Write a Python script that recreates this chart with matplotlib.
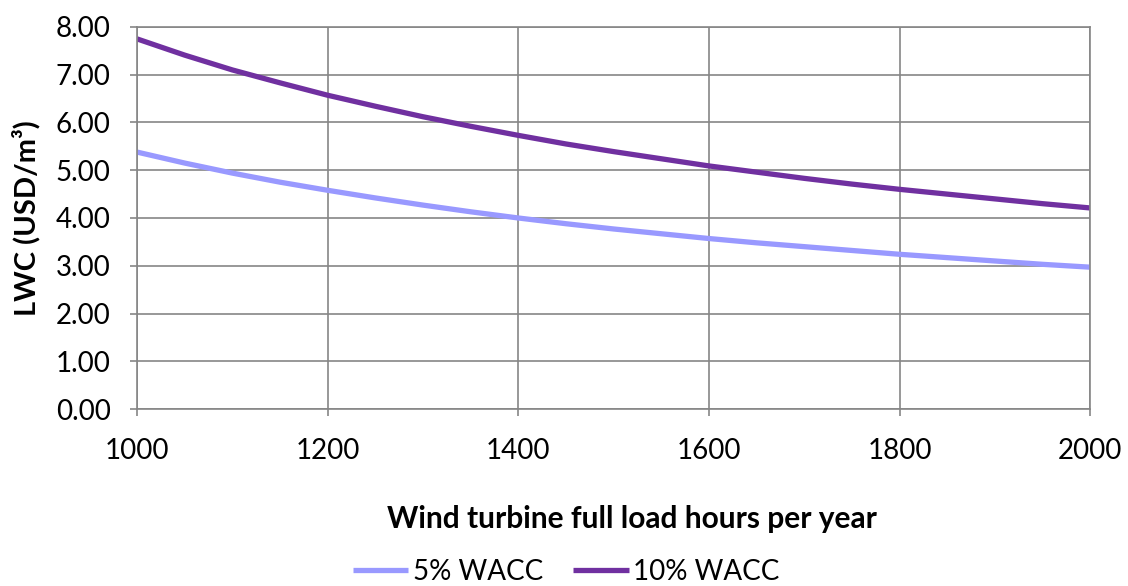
import matplotlib
matplotlib.use("Agg")
import matplotlib.pyplot as plt

plt.rcParams["font.family"] = ["Lato", "DejaVu Sans"]

hours = [1000, 1050, 1100, 1150, 1200, 1250, 1300, 1350, 1400, 1450, 1500,
         1550, 1600, 1650, 1700, 1750, 1800, 1850, 1900, 1950, 2000]
wacc_5 = [5.38, 5.15, 4.94, 4.75, 4.58, 4.42, 4.27, 4.13, 4.00, 3.88, 3.77,
          3.67, 3.57, 3.48, 3.40, 3.32, 3.24, 3.17, 3.10, 3.03, 2.97]
wacc_10 = [7.75, 7.41, 7.10, 6.83, 6.57, 6.34, 6.12, 5.92, 5.73, 5.55, 5.39,
           5.24, 5.09, 4.96, 4.83, 4.71, 4.60, 4.50, 4.40, 4.30, 4.21]

x_ticks = [1000, 1200, 1400, 1600, 1800, 2000]
y_ticks = [0, 1, 2, 3, 4, 5, 6, 7, 8]

fig = plt.figure(figsize=(11.28, 5.86), dpi=100)
ax = fig.add_axes([0.1215, 0.302, 0.845, 0.652])

ax.plot(hours, wacc_5, color="#9999FF", lw=3.8, label="5% WACC", solid_capstyle="butt")
ax.plot(hours, wacc_10, color="#7030A0", lw=3.8, label="10% WACC", solid_capstyle="butt")

ax.set_xlim(1000, 2000)
ax.set_ylim(0, 8)
ax.set_xticks(x_ticks)
ax.set_yticks(y_ticks)
ax.set_yticklabels([f"{v:.2f}" for v in y_ticks])
ax.grid(True, color="#868686", lw=1.2)
ax.set_axisbelow(True)
for s in ax.spines.values():
    s.set_color("#868686")
    s.set_linewidth(1.2)
ax.tick_params(colors="#868686", labelcolor="black", labelsize=20, length=5, width=1.2)
ax.tick_params(axis="x", pad=16)
ax.tick_params(axis="y", pad=14)

ax.set_xlabel("Wind turbine full load hours per year", fontsize=21.5, fontweight="bold")
ax.xaxis.set_label_coords(0.519, -0.25)
ax.set_ylabel("LWC (USD/m³)", fontsize=21, fontweight="bold")
ax.yaxis.set_label_coords(-0.101, 0.5)

fig.legend(*ax.get_legend_handles_labels(), loc="center", bbox_to_anchor=(0.502, 0.024),
           ncol=2, frameon=False, fontsize=20, handlelength=2.0, handletextpad=0.15,
           columnspacing=1.1, borderpad=0)

fig.savefig("out.png", dpi=100)
